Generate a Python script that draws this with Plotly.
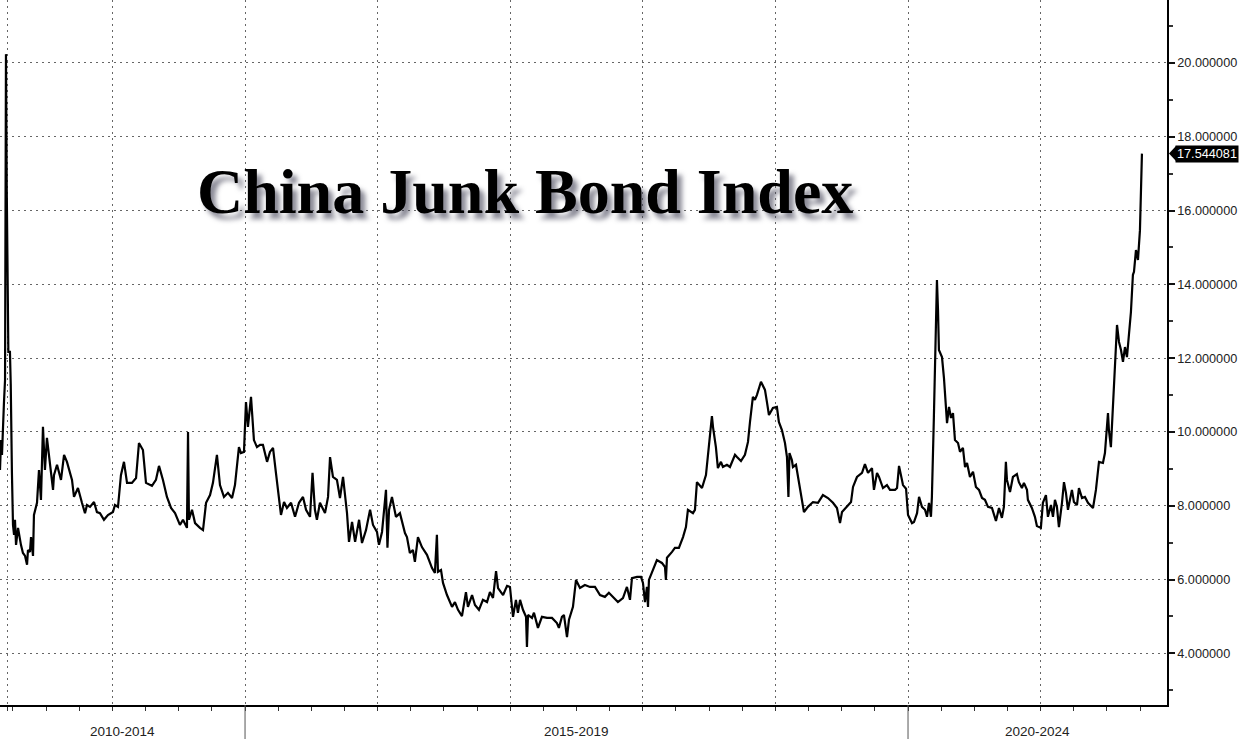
import plotly.graph_objects as go

# ---- data (decimal year, index level) ----
years = [
2013.152,2013.160,2013.167,2013.175,2013.182,2013.190,2013.197,2013.203,2013.209,2013.215,
2013.227,2013.233,2013.242,2013.250,2013.258,2013.265,2013.273,2013.288,2013.310,2013.325,
2013.341,2013.356,2013.363,2013.378,2013.386,2013.393,2013.401,2013.408,2013.423,2013.431,
2013.446,2013.461,2013.476,2013.491,2013.506,2013.529,2013.552,2013.559,2013.582,2013.612,
2013.635,2013.657,2013.672,2013.695,2013.710,2013.740,2013.770,2013.793,2013.808,2013.831,
2013.861,2013.883,2013.906,2013.936,2013.966,2014.004,2014.019,2014.042,2014.064,2014.087,
2014.110,2014.147,2014.178,2014.200,2014.230,2014.253,2014.298,2014.328,2014.351,2014.381,
2014.411,2014.442,2014.472,2014.509,2014.532,2014.562,2014.570,2014.577,2014.600,2014.623,
2014.660,2014.683,2014.706,2014.736,2014.758,2014.788,2014.811,2014.841,2014.871,2014.902,
2014.924,2014.954,2014.969,2014.992,2015.007,2015.022,2015.045,2015.067,2015.090,2015.113,
2015.135,2015.166,2015.188,2015.211,2015.233,2015.271,2015.294,2015.316,2015.347,2015.377,
2015.407,2015.437,2015.460,2015.490,2015.509,2015.527,2015.542,2015.565,2015.603,2015.626,
2015.641,2015.663,2015.693,2015.716,2015.739,2015.769,2015.784,2015.807,2015.830,2015.860,
2015.882,2015.912,2015.943,2015.965,2015.995,2016.010,2016.033,2016.063,2016.074,2016.086,
2016.108,2016.138,2016.168,2016.206,2016.221,2016.243,2016.266,2016.281,2016.304,2016.334,
2016.372,2016.410,2016.432,2016.447,2016.455,2016.478,2016.493,2016.523,2016.561,2016.583,
2016.606,2016.636,2016.666,2016.681,2016.712,2016.734,2016.764,2016.794,2016.825,2016.847,
2016.870,2016.893,2016.908,2016.946,2016.976,2016.998,2017.021,2017.043,2017.058,2017.074,
2017.096,2017.119,2017.126,2017.134,2017.164,2017.179,2017.209,2017.239,2017.277,2017.315,
2017.352,2017.367,2017.390,2017.405,2017.428,2017.443,2017.473,2017.496,2017.526,2017.563,
2017.601,2017.639,2017.677,2017.714,2017.744,2017.775,2017.812,2017.850,2017.880,2017.903,
2017.918,2017.956,2017.986,2018.001,2018.016,2018.031,2018.039,2018.046,2018.076,2018.106,
2018.144,2018.167,2018.174,2018.182,2018.220,2018.242,2018.272,2018.303,2018.325,2018.340,
2018.378,2018.393,2018.408,2018.446,2018.476,2018.491,2018.521,2018.529,2018.551,2018.566,
2018.589,2018.604,2018.634,2018.657,2018.695,2018.710,2018.740,2018.770,2018.793,2018.808,
2018.830,2018.845,2018.860,2018.891,2018.921,2018.936,2018.951,2018.981,2019.011,2019.026,
2019.049,2019.072,2019.087,2019.098,2019.106,2019.124,2019.132,2019.155,2019.185,2019.215,
2019.245,2019.283,2019.321,2019.358,2019.396,2019.434,2019.464,2019.487,2019.502,2019.540,
2019.570,2019.585,2019.615,2019.653,2019.675,2019.698,2019.728,2019.743,2019.766,2019.781,
2019.811,2019.841,2019.864,2019.902,2019.917,2019.932,2019.962,2019.985,2020.000,2020.030,
2020.045,2020.068,2020.083,2020.105,2020.128,2020.143,2020.158,2020.173,2020.180,2020.195,
2020.218,2020.226,2020.233,2020.256,2020.271,2020.294,2020.309,2020.324,2020.339,2020.354,
2020.377,2020.392,2020.414,2020.430,2020.445,2020.467,2020.490,2020.512,2020.535,2020.558,
2020.580,2020.603,2020.633,2020.663,2020.686,2020.708,2020.723,2020.738,2020.746,2020.769,
2020.791,2020.821,2020.836,2020.859,2020.874,2020.897,2020.904,2020.934,2020.957,2020.972,
2021.002,2021.017,2021.040,2021.055,2021.078,2021.093,2021.108,2021.123,2021.138,2021.161,
2021.176,2021.191,2021.206,2021.236,2021.251,2021.274,2021.289,2021.312,2021.334,2021.357,
2021.395,2021.417,2021.440,2021.470,2021.485,2021.508,2021.515,2021.530,2021.545,2021.560,
2021.576,2021.591,2021.606,2021.621,2021.636,2021.651,2021.666,2021.681,2021.696,2021.704,
2021.719,2021.734,2021.749,2021.764,
]

values = [
8.97,9.78,9.38,10.51,10.81,11.41,20.24,16.56,13.58,12.17,
12.17,11.30,8.89,7.48,7.21,7.62,6.94,7.40,6.94,6.72,
6.64,6.40,6.80,6.75,7.15,6.86,6.64,7.75,8.02,8.08,
8.97,8.16,10.14,8.97,9.84,9.16,8.43,8.83,9.11,8.70,
9.38,9.19,9.02,8.70,8.24,8.48,8.08,7.80,8.02,7.97,
8.10,7.83,7.80,7.62,7.75,7.83,8.02,7.97,8.83,9.19,
8.62,8.62,8.75,9.70,9.51,8.62,8.54,8.70,9.08,8.70,
8.24,7.94,7.80,7.48,7.62,7.40,10.00,7.62,7.89,7.53,
7.40,7.34,8.08,8.29,8.62,9.38,8.56,8.24,8.35,8.21,
8.56,9.59,9.43,9.46,10.81,10.14,10.95,9.78,9.59,9.65,
9.65,9.19,9.46,9.57,8.89,7.75,8.10,7.94,8.08,7.70,
8.08,8.24,7.89,7.70,8.89,7.89,7.62,8.08,7.80,8.24,
9.32,8.78,8.70,8.21,8.78,7.80,7.02,7.56,7.02,7.62,
6.99,7.34,7.89,7.48,7.29,6.94,7.29,8.43,6.86,7.89,
8.24,7.70,7.80,7.26,7.15,6.72,6.80,6.48,7.15,6.88,
6.67,6.31,6.18,7.21,6.21,6.26,5.91,5.58,5.26,5.39,
5.18,5.01,5.66,5.26,5.58,5.31,5.18,5.45,5.39,5.66,
5.50,6.23,5.77,5.58,5.83,5.80,4.99,5.45,5.10,5.45,
5.18,4.99,4.17,5.04,4.96,5.10,4.69,4.99,4.96,4.96,
4.82,4.69,4.99,5.04,4.44,4.91,5.26,5.99,5.77,5.85,
5.80,5.80,5.58,5.53,5.64,5.53,5.39,5.50,5.80,5.45,
6.04,6.07,6.07,5.91,5.39,5.80,5.26,5.99,6.26,6.53,
6.45,6.34,5.99,6.59,6.75,6.86,6.86,7.15,7.42,7.89,
7.80,7.89,8.64,8.48,8.83,9.32,10.43,10.14,9.59,9.02,
9.19,9.05,9.11,9.05,9.38,9.32,9.21,9.38,9.73,10.27,
10.95,10.87,11.00,11.36,11.14,10.81,10.46,10.65,10.68,10.27,
10.05,9.70,9.32,8.24,9.43,9.24,9.05,9.11,8.43,7.83,
7.97,8.10,8.08,8.29,8.21,8.08,7.94,7.53,7.83,7.97,
8.10,8.51,8.78,8.89,9.13,8.89,9.02,8.43,8.89,8.78,
8.48,8.56,8.43,8.43,8.48,9.08,8.56,8.46,7.75,7.53,
7.56,7.80,8.24,7.97,7.89,7.70,8.08,7.70,8.24,10.41,
14.12,13.31,12.22,12.03,11.46,10.24,10.68,10.38,10.51,9.78,
9.70,9.46,9.57,9.05,9.16,8.78,8.92,8.51,8.43,8.21,
8.16,7.97,7.94,7.59,7.94,7.67,7.97,9.19,8.70,8.37,
8.78,8.86,8.64,8.48,8.62,8.43,8.16,7.94,7.70,7.45,
7.40,8.08,8.29,7.70,8.02,7.70,8.16,7.97,7.42,8.08,
8.64,8.35,7.89,8.43,8.10,8.02,8.48,8.21,8.24,8.08,
7.94,8.43,9.19,9.16,9.43,10.51,10.05,9.59,10.68,11.95,
12.90,12.44,12.22,11.90,12.30,12.03,12.68,13.25,14.26,14.34,
14.93,14.66,15.47,17.544081,
]

title_text = "China Junk Bond Index"
period_labels = ["2010-2014", "2015-2019", "2020-2024"]
period_centers = [2014.076, 2017.5, 2020.976]
period_breaks = [2015, 2020]
grid_years = [2013.205, 2014, 2015, 2016, 2017, 2018, 2019, 2020, 2021]
x_range = [2013.152, 2021.953]
y_range = [2.60, 21.707]
y_ticks = [4, 6, 8, 10, 12, 14, 16, 18, 20]

last_val = values[-1]

fig = go.Figure()
fig.add_trace(go.Scatter(
    x=years, y=values, mode="lines",
    line=dict(color="#000000", width=2.2),
    hoverinfo="skip", showlegend=False,
))

grid_dash = "2px,4px"
fig.update_layout(
    width=1241, height=739,
    margin=dict(l=0, r=74, t=0, b=34),
    paper_bgcolor="white", plot_bgcolor="white",
    font=dict(family="Liberation Sans, Arial, sans-serif", size=12, color="#222222"),
    xaxis=dict(
        range=x_range, tickmode="array", tickvals=grid_years,
        showticklabels=False, ticks="outside", ticklen=4, tickcolor="#333",
        showline=True, linecolor="#000", linewidth=1.5,
        showgrid=True, gridcolor="#666", griddash=grid_dash, gridwidth=1,
        zeroline=False, fixedrange=True,
        minor=dict(tick0=2013, dtick=0.25, ticks="outside", ticklen=4,
                   tickcolor="#333", showgrid=False),
    ),
    yaxis=dict(
        side="right", range=y_range, tickmode="array", tickvals=y_ticks,
        tickformat=".6f", ticks="outside", ticklen=6, tickwidth=2, tickcolor="#111",
        showline=True, linecolor="#000", linewidth=1.5,
        showgrid=True, gridcolor="#666", griddash=grid_dash, gridwidth=1,
        zeroline=False, fixedrange=True,
        tickfont=dict(size=12.7, color="#222"),
        minor=dict(tick0=1, dtick=2, ticks="outside", ticklen=4,
                   tickcolor="#333", showgrid=False),
    ),
)

# period separators below axis
for b in period_breaks:
    fig.add_shape(type="line", xref="x", yref="paper", x0=b, x1=b, y0=0, y1=-0.06,
                  line=dict(color="#555", width=1))

# period labels
for lab, c in zip(period_labels, period_centers):
    fig.add_annotation(x=c, xref="x", y=-0.038, yref="paper", text=lab,
                       showarrow=False, xanchor="center", yanchor="middle",
                       font=dict(size=13.5, color="#222"))

# title with shadow
fig.add_annotation(
    x=0.450, xref="paper", y=0.728, yref="paper", text=title_text,
    showarrow=False, xanchor="center", yanchor="middle",
    font=dict(family="Liberation Serif, Times New Roman, serif", size=64,
              color="#000", weight=700, shadow="5px 6px 5px rgba(60,60,80,0.6)"),
)

# last value marker
fig.add_annotation(
    x=1, xref="paper", y=last_val, yref="y", text=f"{last_val:.6f}",
    showarrow=False, xanchor="left", yanchor="middle", xshift=8,
    bgcolor="#000", borderpad=1,
    font=dict(size=12.7, color="#fff"),
)
fig.add_shape(type="path", xref="paper", yref="y", xsizemode="pixel", ysizemode="pixel",
              xanchor=1, yanchor=last_val, path="M 2 0 L 9 -7.5 L 9 7.5 Z",
              fillcolor="#000", line=dict(width=0))

fig.write_html("out.html", config={"displayModeBar": False},
               post_script="document.body.style.margin='0';")
